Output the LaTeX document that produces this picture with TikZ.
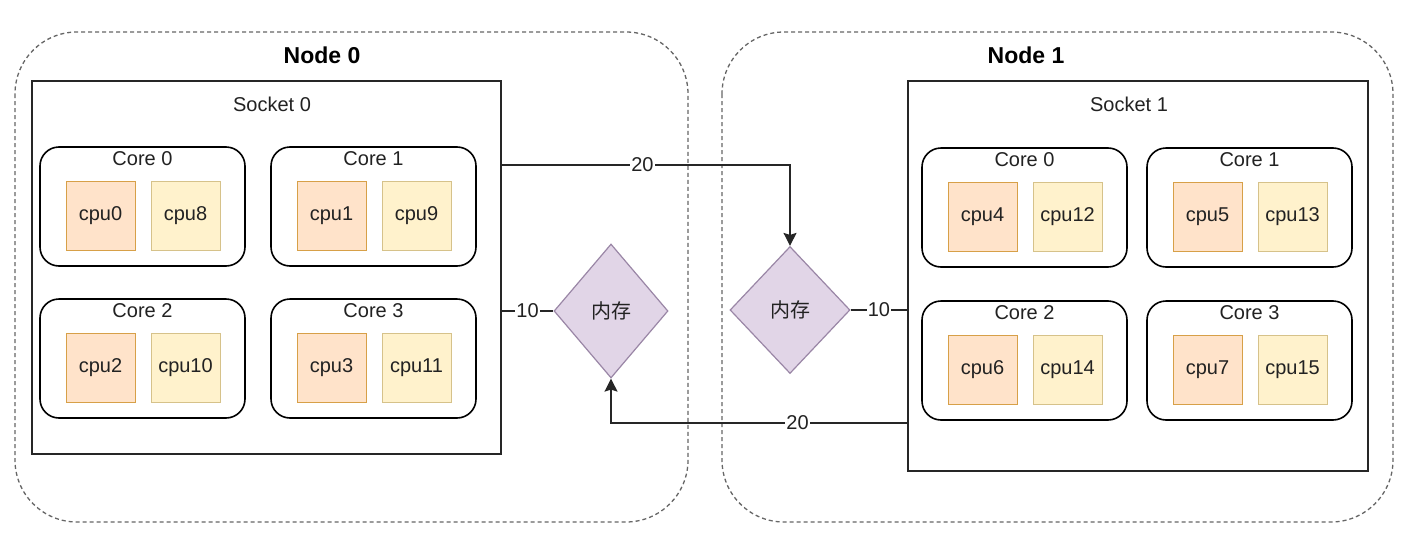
\documentclass[tikz,border=0pt]{standalone}
\usepackage{fontspec}
\setmainfont{Liberation Sans}
\newfontfamily\cjk{Noto Sans CJK SC}
\usetikzlibrary{shapes.geometric,arrows.meta}
\definecolor{txt}{HTML}{222222}
\definecolor{orfill}{HTML}{FFE3CA}
\definecolor{orline}{HTML}{D7A048}
\definecolor{yefill}{HTML}{FFF2CC}
\definecolor{yeline}{HTML}{D6C28A}
\definecolor{pufill}{HTML}{E1D5E7}
\definecolor{puline}{HTML}{9A86A6}
\definecolor{dashc}{HTML}{666666}
\tikzset{
  every node/.style={text=txt, font=\fontsize{20}{24}\selectfont},
  nodebox/.style={draw=dashc, line width=1.3pt, dash pattern=on 4pt off 3pt, rounded corners=62pt},
  sockbox/.style={draw=black!85, line width=1.6pt, rectangle, inner sep=0pt},
  corebox/.style={draw=black, line width=1.6pt, rectangle, rounded corners=19pt, minimum width=205pt, minimum height=119pt, inner sep=0pt},
  cpuA/.style={draw=orline, fill=orfill, line width=1pt, minimum width=69pt, minimum height=69pt, inner sep=0pt},
  cpuB/.style={draw=yeline, fill=yefill, line width=1pt, minimum width=69pt, minimum height=69pt, inner sep=0pt},
  mem/.style={diamond, draw=puline, fill=pufill, line width=1.2pt, inner sep=0pt, font=\cjk\fontsize{20}{24}\selectfont},
  conn/.style={draw=black!85, line width=1.4pt},
  arr/.style={conn, -{Stealth[length=13pt,width=13pt,inset=2pt]}},
  lbl/.style={fill=white, inner sep=1pt},
  ttl/.style={font=\bfseries\fontsize{23}{27}\selectfont, text=black}
}
\newcommand\mkcore[6]{%
  \begin{scope}[shift={(#2,#3)}]
    \node[corebox] (#1) at (102.5,59.5) {};
    \node (#1t) at (102.5,12) {#4};
    \node[cpuA] (#1a) at (60.5,68.5) {#5};
    \node[cpuB] (#1b) at (145.5,68.5) {#6};
  \end{scope}}
\begin{document}
\begin{tikzpicture}[x=1pt,y=-1pt]
\useasboundingbox (0,0) rectangle (1412,538);
\fill[white] (0,0) rectangle (1412,538);
% node containers
\draw[nodebox] (15,32) rectangle (688,522);
\draw[nodebox] (722,32) rectangle (1393,522);
\node[ttl] (n0) at (322,55) {Node 0};
\node[ttl] (n1) at (1026,55) {Node 1};
% sockets
\node[sockbox, minimum width=469pt, minimum height=373pt] (s0) at (266.5,267.5) {};
\node (s0t) at (272,104) {Socket 0};
\node[sockbox, minimum width=460pt, minimum height=390pt] (s1) at (1138,276) {};
\node (s1t) at (1129,104) {Socket 1};
% cores socket 0
\mkcore{c00}{40}{147}{Core 0}{cpu0}{cpu8}
\mkcore{c01}{271}{147}{Core 1}{cpu1}{cpu9}
\mkcore{c02}{40}{299}{Core 2}{cpu2}{cpu10}
\mkcore{c03}{271}{299}{Core 3}{cpu3}{cpu11}
% cores socket 1
\mkcore{c10}{922}{148}{Core 0}{cpu4}{cpu12}
\mkcore{c11}{1147}{148}{Core 1}{cpu5}{cpu13}
\mkcore{c12}{922}{301}{Core 2}{cpu6}{cpu14}
\mkcore{c13}{1147}{301}{Core 3}{cpu7}{cpu15}
% memory
\node[mem, minimum width=114pt, minimum height=134pt] (m0) at (611,311) {内存};
\node[mem, minimum width=120pt, minimum height=127pt] (m1) at (790,310) {内存};
% connectors
\coordinate (ty) at (0,165);
\coordinate (by) at (0,423);
\draw[arr] (s0.east |- ty) -| node[lbl, pos=0.244] {20} (m1.north);
\draw[arr] (s1.west |- by) -| node[lbl, pos=0.185] {20} (m0.south);
\draw[conn] (s0.east |- m0) -- node[lbl] {10} (m0.west);
\draw[conn] (m1.east) -- node[lbl] {10} (s1.west |- m1);
\end{tikzpicture}
\end{document}
